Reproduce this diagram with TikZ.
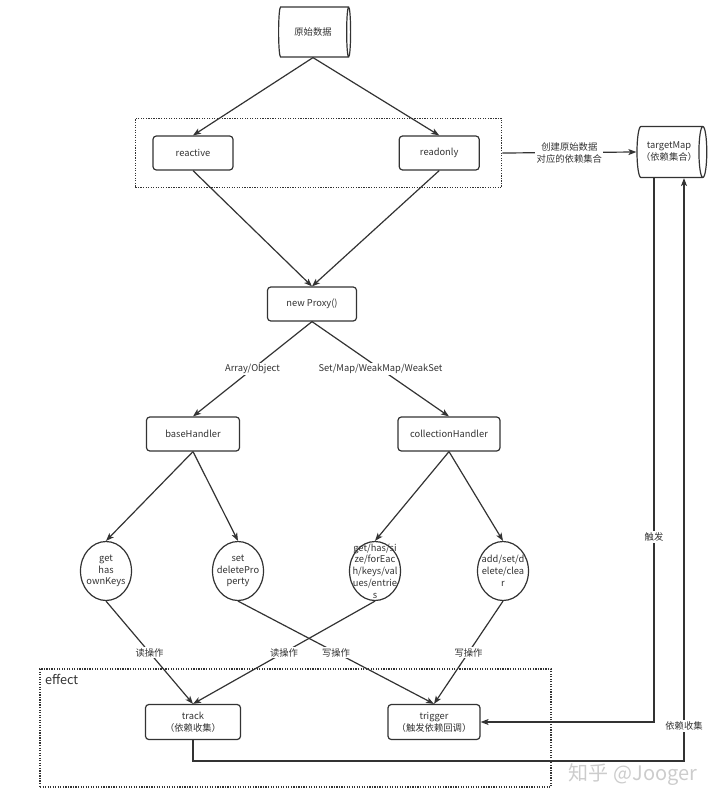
\documentclass[tikz,border=0pt]{standalone}
\usepackage{fontspec}
\setmainfont{Noto Sans CJK SC}
\usepackage{tikz}
\usetikzlibrary{arrows.meta,positioning,shapes.geometric,fit,calc}
\definecolor{traco}{HTML}{333333}
\tikzset{
    bloco/.style={
        rectangle,
        draw=traco,
        line width=0.9pt,
        rounded corners=2.5pt,
        align=center,
        minimum height=25.5pt,
        minimum width=60pt,
        inner sep=1pt
    },
    cilindro/.style={
        cylinder,
        draw=traco,
        line width=0.9pt,
        aspect=0.35,
        align=center,
        inner sep=1pt
    },
    circulo/.style={
        ellipse,
        draw=traco,
        line width=0.9pt,
        minimum width=38.25pt,
        minimum height=44.25pt,
        inner sep=0pt
    },
    circtexto/.style={align=center, inner sep=0pt, font=\fontsize{7}{8.8}\selectfont},
    fluxo/.style={-{Stealth[length=6pt, width=4.5pt, inset=1.5pt]}, draw=traco, line width=0.9pt},
    rotulo/.style={fill=white, inner sep=1pt, align=center},
    regiao/.style={draw=traco, line width=0.8pt, dash pattern=on 0.9pt off 1pt}
}

\begin{document}
\begin{tikzpicture}[x=0.75pt, y=-0.75pt, font=\fontsize{7}{9}\selectfont, text=traco]
    \useasboundingbox (0,0) rectangle (720,807);

    % entrada e agrupamento
    \node[cilindro, minimum width=37.5pt, minimum height=54pt] (dados) at (313,32) {原始数据};
    \node[bloco] (reactive) at (193,153) {reactive};
    \node[bloco, right=123.75pt of reactive] (readonly) {readonly};
    \coordinate (grupoFim) at ([xshift=3.75pt]readonly.east);
    \node[regiao, inner sep=12.75pt, fit=(reactive)(readonly)(grupoFim)] (grupo) {};
    \node[cilindro, minimum width=38.25pt, minimum height=51pt] (alvo) at (669,152) {targetMap\\（依赖集合）};

    % proxy e handlers
    \node[bloco, minimum width=66.75pt] (proxy) at (312,304) {new Proxy()};
    \node[bloco, minimum width=69.75pt] (base) at (193,434) {baseHandler};
    \node[bloco, minimum width=76.5pt] (colecao) at (449,434) {collectionHandler};

    % operacoes
    \node[circulo, label={[circtexto]center:get\\has\\ownKeys}] (get) at (106,571) {};
    \node[circulo, label={[circtexto]center:set\\deletePro\\perty}] (set) at (238,571) {};
    \node[circulo, label={[circtexto]center:get/has/si\\ze/forEac\\h/keys/val\\ues/entrie\\s}] (colget) at (375,571) {};
    \node[circulo, label={[circtexto]center:add/set/d\\elete/clea\\r}] (coladd) at (503,571) {};

    % effect
    \coordinate (e1) at (40,669);
    \coordinate (e2) at (551,787);
    \node[regiao, inner sep=0pt, fit=(e1)(e2)] (efeito) {};
    \node[anchor=north west, inner sep=4pt, font=\fontsize{9.5}{11}\selectfont] (efeitoRotulo) at (efeito.north west) {effect};
    \node[bloco, minimum width=71.25pt, minimum height=26.25pt] (track) at (193,722) {track\\（依赖收集）};
    \node[bloco, minimum width=69pt, minimum height=26.25pt] (trigger) at (434,722) {trigger\\（触发依赖回调）};

    \draw[fluxo] (dados.south) -- (reactive.north);
    \draw[fluxo] (dados.south) -- (readonly.north);
    \draw[fluxo] (grupo.east) -- node[rotulo] {创建原始数据\\对应的依赖集合} (alvo.west);
    \draw[fluxo] (reactive.south) -- (proxy.north);
    \draw[fluxo] (readonly.south) -- (proxy.north);

    \draw[fluxo] (proxy.south) -- node[rotulo] {Array/Object} (base.north);
    \draw[fluxo] (proxy.south) -- node[rotulo] {Set/Map/WeakMap/WeakSet} (colecao.north);
    \draw[fluxo] (base.south) -- (get.north);
    \draw[fluxo] (base.south) -- (set.north);
    \draw[fluxo] (colecao.south) -- (colget.north);
    \draw[fluxo] (colecao.south) -- (coladd.north);

    \draw[fluxo] (get.south) -- node[rotulo] {读操作} (track.north);
    \draw[fluxo] (colget.south) -- node[rotulo] {读操作} (track.north);
    \draw[fluxo] (set.south) -- node[rotulo] {写操作} (trigger.north);
    \draw[fluxo] (coladd.south) -- node[rotulo] {写操作} (trigger.north);

    % retorno para targetMap
    \coordinate (xdesce) at (654,0);
    \coordinate (xsobe) at (684,761);
    \draw[fluxo] (alvo.south -| xdesce) -- node[rotulo, pos=0.66] {触发} (xdesce |- trigger.east) -- (trigger.east);
    \draw[fluxo] (track.south) |- (xsobe) -- node[rotulo, pos=0.06] {依赖收集} (alvo.south -| xsobe);

    \node[text=gray!40, font=\fontsize{15}{15}\selectfont] (marca) at (633,775) {知乎 @Jooger};
\end{tikzpicture}
\end{document}
